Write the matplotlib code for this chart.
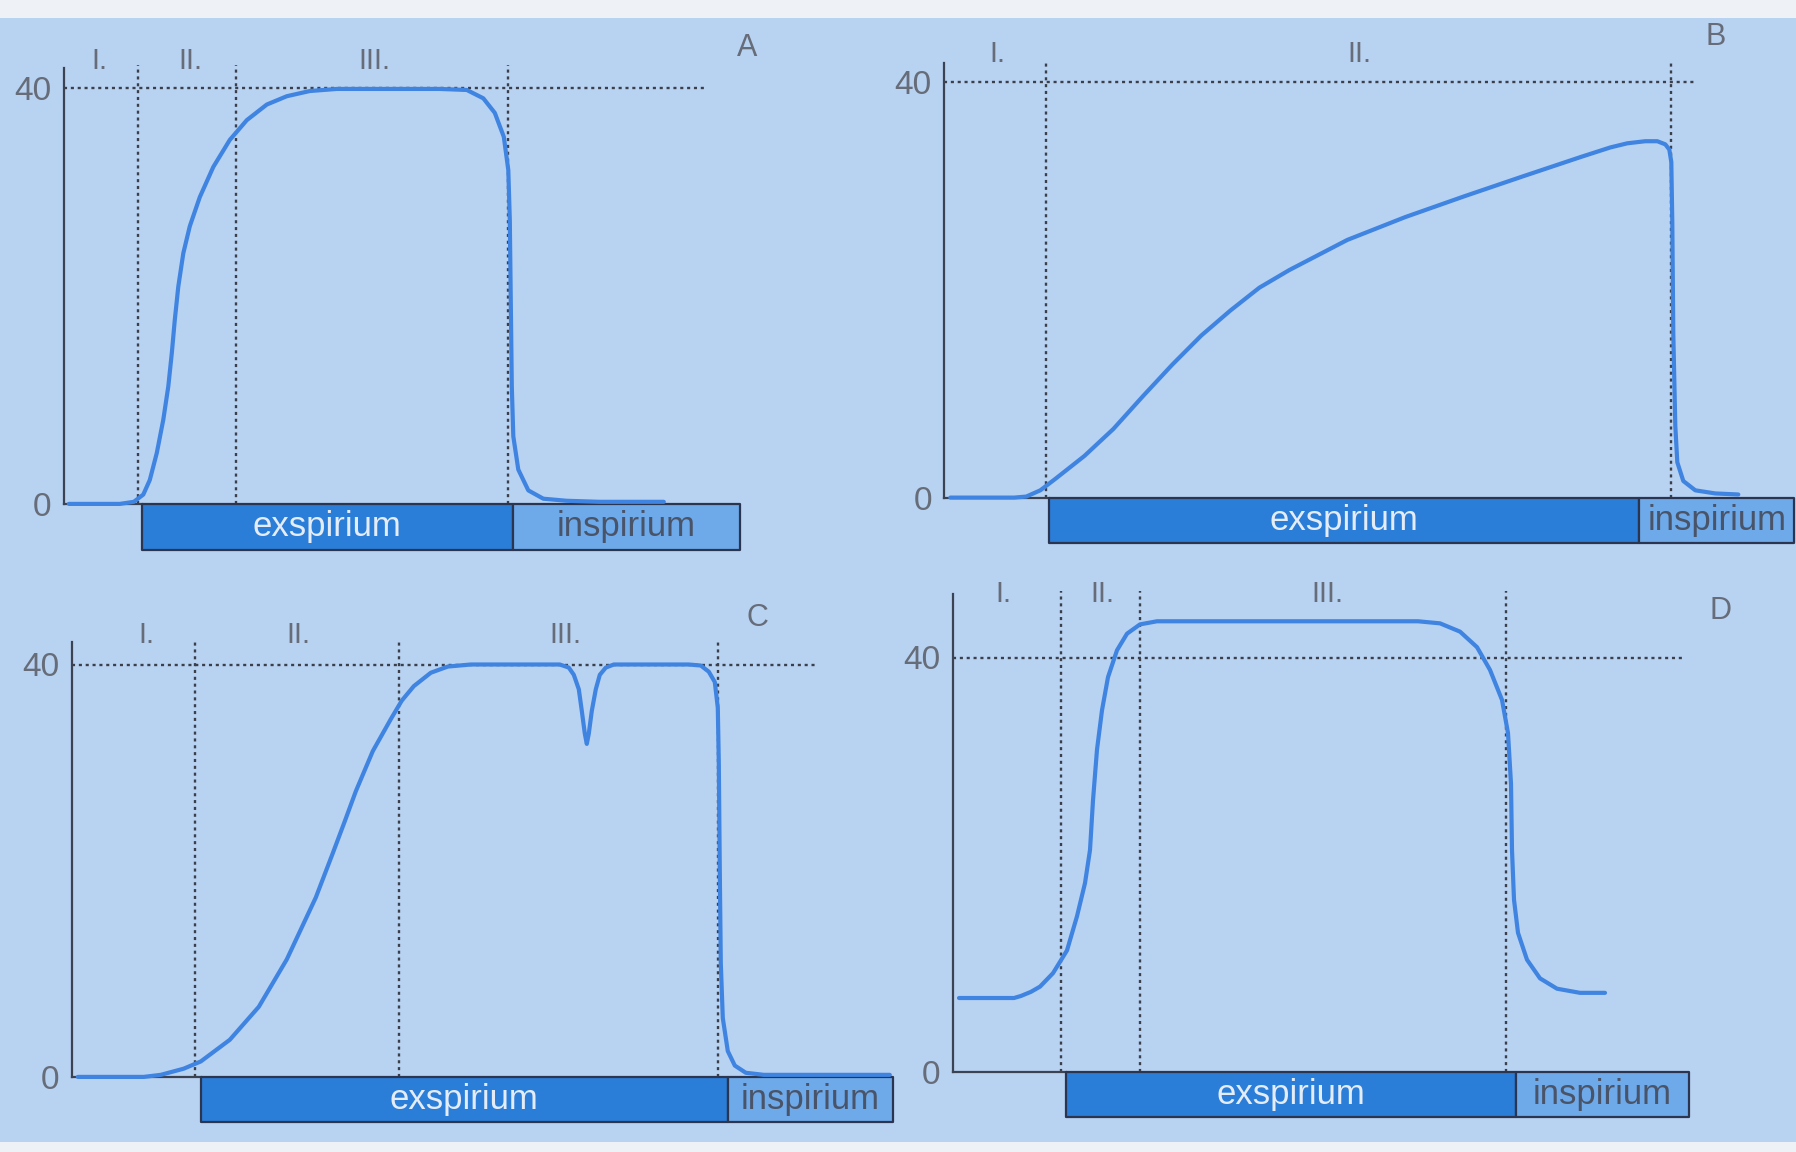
import matplotlib
matplotlib.use("Agg")
import matplotlib.pyplot as plt

# --- data (time in arbitrary units, CO2 in mmHg) ---
# panel A: normal capnogram
a_t = [0.5, 5.6, 7.0, 7.95, 8.6, 9.3, 9.95, 10.45, 10.8, 11.1, 11.45, 11.95, 12.6, 13.6,
       14.95, 16.6, 18.3, 20.3, 22.3, 24.6, 27.3, 37.6, 40.3, 41.95, 43.1, 44.0, 44.45,
       44.6, 44.7, 44.8, 44.95, 45.45, 46.45, 47.95, 50.3, 53.6, 60.0]
a_co2 = [0, 0, 0.2, 0.9, 2.3, 4.9, 8.1, 11.3, 14.5, 17.7, 20.9, 24.1, 26.7, 29.5,
         32.4, 35.0, 36.9, 38.4, 39.2, 39.7, 39.9, 39.9, 39.8, 39.0, 37.6, 35.3, 32.1,
         27.3, 19.3, 11.3, 6.5, 3.3, 1.3, 0.5, 0.3, 0.2, 0.2]

# panel B: obstructive, no plateau
b_t = [0.6, 7.0, 8.2, 9.6, 11.1, 14.0, 16.9, 19.9, 22.8, 25.7, 28.6, 31.5, 34.5, 40.3,
       46.1, 52.0, 57.8, 63.7, 66.6, 68.3, 70.1, 71.3, 72.1, 72.5, 72.7, 72.8, 72.9,
       73.1, 73.3, 73.9, 75.1, 77.1, 79.4]
b_co2 = [0, 0, 0.1, 0.7, 1.8, 4.0, 6.6, 9.8, 12.8, 15.6, 18.0, 20.2, 21.9, 24.8,
         27.0, 29.0, 30.9, 32.8, 33.7, 34.1, 34.3, 34.3, 34.0, 33.5, 32.3, 26.5, 15.8,
         6.9, 3.4, 1.6, 0.7, 0.4, 0.3]

# panel C: curare cleft in plateau
c_t = [0.6, 7.2, 8.9, 11.2, 12.9, 15.8, 18.7, 21.5, 24.4, 26.1, 27.3, 28.4, 30.1, 31.9,
       33.0, 34.2, 35.9, 37.6, 39.9, 48.8, 49.7, 50.2, 50.7, 51.0, 51.3, 51.5, 51.7,
       52.0, 52.4, 52.8, 53.4, 54.2, 61.7, 62.9, 63.7, 64.3, 64.6, 64.7, 64.8, 64.9,
       65.1, 65.6, 66.3, 67.4, 69.2, 81.8]
c_co2 = [0, 0, 0.2, 0.8, 1.5, 3.6, 6.8, 11.4, 17.4, 21.7, 24.8, 27.7, 31.6, 34.7,
         36.5, 37.9, 39.2, 39.8, 40.0, 40.0, 39.7, 39.0, 37.6, 35.5, 33.3, 32.3, 33.3,
         35.5, 37.6, 39.0, 39.7, 40.0, 40.0, 39.9, 39.3, 38.3, 35.8, 30.5, 19.9, 11.0,
         5.7, 2.5, 1.1, 0.4, 0.2, 0.2]

# panel D: rebreathing, raised baseline
d_t = [0.6, 6.1, 6.8, 7.8, 8.7, 10.0, 11.4, 12.4, 13.2, 13.7, 14.0, 14.4, 14.9, 15.5,
       16.4, 17.4, 18.7, 20.4, 28.7, 46.5, 48.7, 50.7, 52.4, 53.7, 54.9, 55.5, 55.8,
       55.9, 56.1, 56.5, 57.4, 58.7, 60.4, 62.7, 65.2]
d_co2 = [7.1, 7.1, 7.3, 7.7, 8.2, 9.5, 11.7, 15.0, 18.2, 21.4, 26.2, 31.1, 34.9, 38.1,
         40.7, 42.3, 43.2, 43.5, 43.5, 43.5, 43.3, 42.5, 41.0, 38.8, 35.9, 32.7, 27.8,
         21.4, 16.6, 13.4, 10.8, 9.0, 8.0, 7.6, 7.6]

curves_t = [a_t, b_t, c_t, d_t]
curves_co2 = [a_co2, b_co2, c_co2, d_co2]
panel_letters = ["A", "B", "C", "D"]
phase_names = [["I.", "II.", "III."], ["I.", "II."], ["I.", "II.", "III."], ["I.", "II.", "III."]]
phase_bounds = [[7.4, 17.2, 44.4], [10.2, 72.7], [12.3, 32.7, 64.6], [10.8, 18.7, 55.3]]
phase_label_t = [[3.6, 12.7, 31.1], [5.3, 41.5], [7.5, 22.7, 49.4], [5.0, 14.9, 37.4]]
# breathing bars: [exspirium start, exspirium end / inspirium start, inspirium end]
breath_edges = [[7.8, 44.9, 67.6], [10.5, 69.5, 85.0], [12.9, 65.6, 82.1], [11.3, 56.3, 73.6]]
ref_line_end = [64.0, 75.0, 74.6, 73.0]
yticks = [0, 40]

# --- layout (pixel positions of each panel's origin) ---
W, H = 1796, 1152
origin_x = [63.8, 944.3, 71.8, 953.0]
origin_y = [503.9, 497.6, 1076.9, 1071.5]
px_per_mmhg = [10.40, 10.39, 10.31, 10.35]
px_per_t = 10.0
axis_top = [41.9, 41.8, 42.2, 46.1]
letter_pos = [(68.3, 43.8), (77.1, 44.3), (68.6, 44.5), (76.8, 44.5)]
label_v = [42.6, 42.7, 42.9, 46.1]

BG = "#b8d2f2"
EXP = "#2a7ed8"
INSP = "#6eaaea"
LINE = "#3f84e0"
AXC = "#3b4352"
TXT = "#666c78"

plt.rcParams["font.family"] = ["Liberation Sans", "DejaVu Sans"]
fig = plt.figure(figsize=(W / 100, H / 100), dpi=100)
fig.patch.set_facecolor(BG)
# whitish scan margins
fig.add_artist(plt.Rectangle((0, 1 - 18 / H), 1, 18 / H, transform=fig.transFigure,
                             facecolor="#eef1f6", edgecolor="none"))
fig.add_artist(plt.Rectangle((0, 0), 1, 10 / H, transform=fig.transFigure,
                             facecolor="#eef1f6", edgecolor="none"))

xmin, xmax = -8, 90
ymin, ymax = -6, 50
bar_h = 4.4

for i in range(4):
    ppy = px_per_mmhg[i]
    left = (origin_x[i] + xmin * px_per_t) / W
    width = (xmax - xmin) * px_per_t / W
    bottom = (H - (origin_y[i] - ymin * ppy)) / H
    height = (ymax - ymin) * ppy / H
    ax = fig.add_axes([left, bottom, width, height])
    ax.set_xlim(xmin, xmax)
    ax.set_ylim(ymin, ymax)
    ax.patch.set_visible(False)

    for s in ["top", "right"]:
        ax.spines[s].set_visible(False)
    ax.spines["left"].set_position(("data", 0))
    ax.spines["left"].set_bounds(0, axis_top[i])
    ax.spines["bottom"].set_position(("data", 0))
    ax.spines["bottom"].set_bounds(0, breath_edges[i][0])
    for s in ["left", "bottom"]:
        ax.spines[s].set_color(AXC)
        ax.spines[s].set_linewidth(1.6)
    ax.set_xticks([])
    ax.set_yticks(yticks)
    ax.set_yticklabels([str(v) for v in yticks])
    ax.tick_params(axis="y", length=0, pad=9, labelsize=24, labelcolor=TXT)

    # 40 mmHg reference and phase boundaries
    ax.hlines(40, 0, ref_line_end[i], colors="#3a3f4a", linestyles=(0, (1.3, 1.6)), lw=1.7)
    ax.vlines(phase_bounds[i], 0, axis_top[i] + 0.3, colors="#3a3f4a",
              linestyles=(0, (1.3, 1.6)), lw=1.7)

    # breathing phase bars
    e0, e1, e2 = breath_edges[i]
    ax.broken_barh([(e0, e1 - e0), (e1, e2 - e1)], (-bar_h, bar_h),
                   facecolors=[EXP, INSP], edgecolor="#2b3550", lw=1.6, zorder=3)
    ax.text((e0 + e1) / 2, -bar_h / 2, "exspirium", ha="center", va="center",
            fontsize=25, color="#e4ecf8", zorder=4)
    ax.text((e1 + e2) / 2, -bar_h / 2, "inspirium", ha="center", va="center",
            fontsize=25, color="#4a5468", zorder=4)

    ax.plot(curves_t[i], curves_co2[i], color=LINE, lw=3.0, zorder=5,
            solid_joinstyle="round", solid_capstyle="round")

    for name, t in zip(phase_names[i], phase_label_t[i]):
        ax.text(t, label_v[i], name, ha="center", va="center", fontsize=21, color=TXT)
    lx, ly = letter_pos[i]
    ax.text(lx, ly, panel_letters[i], ha="center", va="center", fontsize=22, color=TXT)

fig.savefig("out.png", dpi=100, facecolor=fig.get_facecolor())
